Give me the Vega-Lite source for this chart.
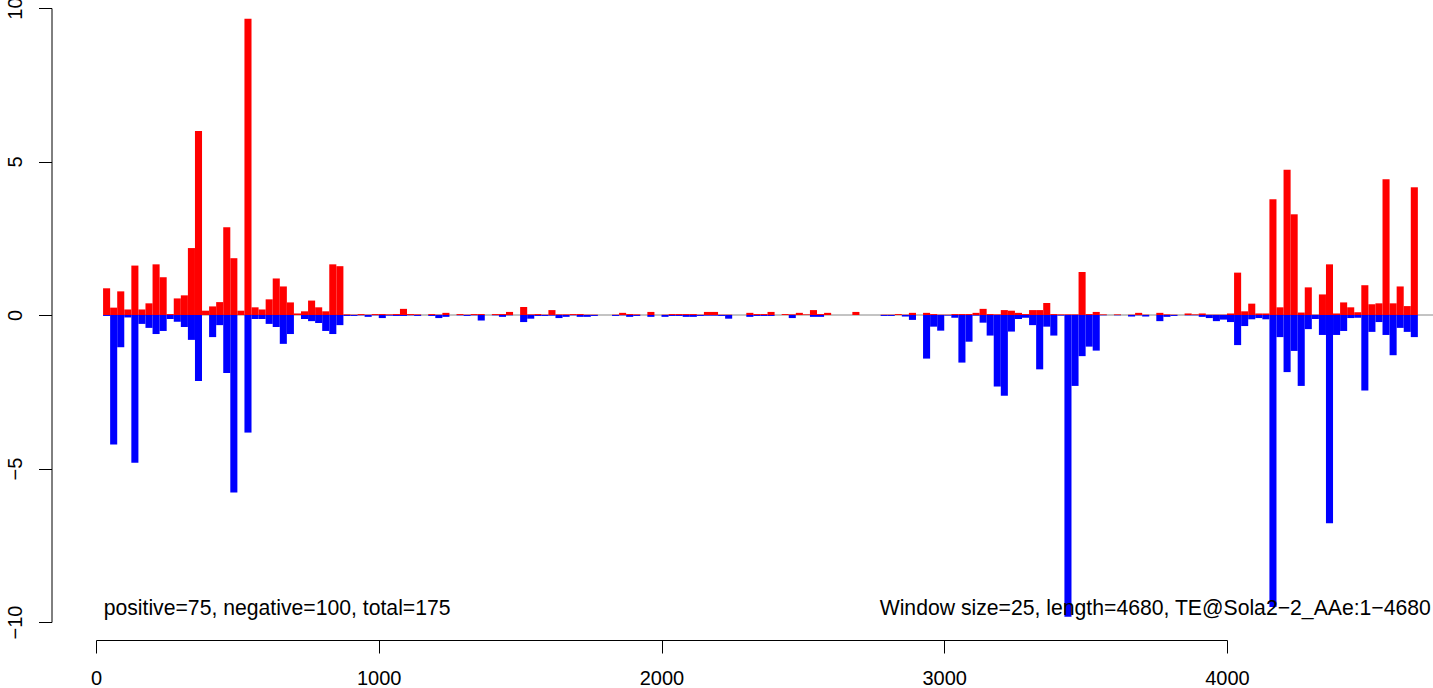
{
  "$schema": "https://vega.github.io/schema/vega-lite/v6.json",
  "width": 1131,
  "height": 614,
  "autosize": {"type": "none"},
  "padding": {"left": 96, "top": 8, "right": 206, "bottom": 66},
  "background": "white",
  "config": {
    "view": {"stroke": null},
    "axis": {"grid": false, "domainColor": "black", "tickColor": "black", "labelColor": "black", "labelFont": "Liberation Sans", "labelFontSize": 20, "tickSize": 13, "domainWidth": 1, "tickWidth": 1, "title": null}
  },
  "data": {"values": [
    {"s":25,"e":50,"pos":0.87,"neg":-0.03},{"s":50,"e":75,"pos":0.24,"neg":-4.22},{"s":75,"e":100,"pos":0.77,"neg":-1.05},{"s":100,"e":125,"pos":0.18,"neg":-0.08},{"s":125,"e":150,"pos":1.61,"neg":-4.81},
    {"s":150,"e":175,"pos":0.18,"neg":-0.29},{"s":175,"e":200,"pos":0.38,"neg":-0.42},{"s":200,"e":225,"pos":1.65,"neg":-0.62},{"s":225,"e":250,"pos":1.23,"neg":-0.52},{"s":250,"e":275,"pos":0.03,"neg":-0.13},
    {"s":275,"e":300,"pos":0.54,"neg":-0.22},{"s":300,"e":325,"pos":0.64,"neg":-0.39},{"s":325,"e":350,"pos":2.18,"neg":-0.81},{"s":350,"e":375,"pos":5.99,"neg":-2.15},{"s":375,"e":400,"pos":0.14,"neg":0},
    {"s":400,"e":425,"pos":0.28,"neg":-0.72},{"s":425,"e":450,"pos":0.42,"neg":-0.33},{"s":450,"e":475,"pos":2.86,"neg":-1.89},{"s":475,"e":500,"pos":1.85,"neg":-5.78},{"s":500,"e":525,"pos":0.14,"neg":0},
    {"s":525,"e":550,"pos":9.65,"neg":-3.83},{"s":550,"e":575,"pos":0.25,"neg":-0.13},{"s":575,"e":600,"pos":0.18,"neg":-0.13},{"s":600,"e":625,"pos":0.51,"neg":-0.29},{"s":625,"e":650,"pos":1.19,"neg":-0.39},
    {"s":650,"e":675,"pos":0.93,"neg":-0.94},{"s":675,"e":700,"pos":0.41,"neg":-0.62},{"s":700,"e":725,"pos":0.05,"neg":0},{"s":725,"e":750,"pos":0.12,"neg":-0.13},{"s":750,"e":775,"pos":0.47,"neg":-0.2},
    {"s":775,"e":800,"pos":0.25,"neg":-0.26},{"s":800,"e":825,"pos":0.12,"neg":-0.52},{"s":825,"e":850,"pos":1.65,"neg":-0.62},{"s":850,"e":875,"pos":1.59,"neg":-0.33},{"s":875,"e":900,"pos":0.02,"neg":-0.03},
    {"s":900,"e":925,"pos":0.01,"neg":-0.03},{"s":925,"e":950,"pos":0.03,"neg":-0.01},{"s":950,"e":975,"pos":0.01,"neg":-0.06},{"s":975,"e":1000,"pos":0.03,"neg":-0.01},{"s":1000,"e":1025,"pos":0.03,"neg":-0.1},
    {"s":1025,"e":1050,"pos":0.02,"neg":-0.02},{"s":1050,"e":1075,"pos":0.03,"neg":-0.03},{"s":1075,"e":1100,"pos":0.2,"neg":-0.03},{"s":1100,"e":1125,"pos":0.03,"neg":-0.01},{"s":1125,"e":1150,"pos":0.02,"neg":-0.03},
    {"s":1150,"e":1175,"pos":0,"neg":0},{"s":1175,"e":1200,"pos":0.03,"neg":-0.03},{"s":1200,"e":1225,"pos":0.01,"neg":-0.1},{"s":1225,"e":1250,"pos":0.07,"neg":-0.06},{"s":1250,"e":1275,"pos":0,"neg":0},
    {"s":1275,"e":1300,"pos":0.03,"neg":-0.01},{"s":1300,"e":1325,"pos":0.01,"neg":-0.03},{"s":1325,"e":1350,"pos":0.03,"neg":-0.01},{"s":1350,"e":1375,"pos":0.03,"neg":-0.18},{"s":1375,"e":1400,"pos":0,"neg":0},
    {"s":1400,"e":1425,"pos":0.03,"neg":-0.01},{"s":1425,"e":1450,"pos":0.03,"neg":-0.06},{"s":1450,"e":1475,"pos":0.1,"neg":-0.01},{"s":1475,"e":1500,"pos":0,"neg":0},{"s":1500,"e":1525,"pos":0.26,"neg":-0.23},
    {"s":1525,"e":1550,"pos":0.02,"neg":-0.12},{"s":1550,"e":1575,"pos":0.03,"neg":-0.03},{"s":1575,"e":1600,"pos":0.01,"neg":-0.03},{"s":1600,"e":1625,"pos":0.16,"neg":-0.02},{"s":1625,"e":1650,"pos":0.02,"neg":-0.1},
    {"s":1650,"e":1675,"pos":0.02,"neg":-0.06},{"s":1675,"e":1700,"pos":0.03,"neg":-0.01},{"s":1700,"e":1725,"pos":0.03,"neg":-0.06},{"s":1725,"e":1750,"pos":0.01,"neg":-0.06},{"s":1750,"e":1775,"pos":0.01,"neg":-0.03},
    {"s":1775,"e":1800,"pos":0,"neg":0},{"s":1800,"e":1825,"pos":0,"neg":0},{"s":1825,"e":1850,"pos":0.01,"neg":-0.03},{"s":1850,"e":1875,"pos":0.07,"neg":-0.01},{"s":1875,"e":1900,"pos":0.03,"neg":-0.06},
    {"s":1900,"e":1925,"pos":0.02,"neg":-0.03},{"s":1925,"e":1950,"pos":0,"neg":0},{"s":1950,"e":1975,"pos":0.1,"neg":-0.06},{"s":1975,"e":2000,"pos":0,"neg":0},{"s":2000,"e":2025,"pos":0.01,"neg":-0.06},
    {"s":2025,"e":2050,"pos":0.03,"neg":-0.03},{"s":2050,"e":2075,"pos":0.03,"neg":-0.03},{"s":2075,"e":2100,"pos":0.03,"neg":-0.06},{"s":2100,"e":2125,"pos":0.03,"neg":-0.06},{"s":2125,"e":2150,"pos":0.01,"neg":-0.03},
    {"s":2150,"e":2175,"pos":0.1,"neg":-0.02},{"s":2175,"e":2200,"pos":0.1,"neg":-0.02},{"s":2200,"e":2225,"pos":0.01,"neg":-0.03},{"s":2225,"e":2250,"pos":0.01,"neg":-0.12},{"s":2250,"e":2275,"pos":0,"neg":0},
    {"s":2275,"e":2300,"pos":0,"neg":0},{"s":2300,"e":2325,"pos":0.07,"neg":-0.06},{"s":2325,"e":2350,"pos":0.03,"neg":-0.03},{"s":2350,"e":2375,"pos":0.03,"neg":-0.03},{"s":2375,"e":2400,"pos":0.1,"neg":-0.03},
    {"s":2400,"e":2425,"pos":0,"neg":0},{"s":2425,"e":2450,"pos":0.03,"neg":0},{"s":2450,"e":2475,"pos":0.02,"neg":-0.1},{"s":2475,"e":2500,"pos":0.07,"neg":0},{"s":2500,"e":2525,"pos":0.02,"neg":0},
    {"s":2525,"e":2550,"pos":0.16,"neg":-0.06},{"s":2550,"e":2575,"pos":0.03,"neg":-0.06},{"s":2575,"e":2600,"pos":0.07,"neg":0},{"s":2600,"e":2625,"pos":0,"neg":0},{"s":2625,"e":2650,"pos":0,"neg":0},
    {"s":2650,"e":2675,"pos":0,"neg":0},{"s":2675,"e":2700,"pos":0.1,"neg":0},{"s":2700,"e":2725,"pos":0,"neg":0},{"s":2725,"e":2750,"pos":0,"neg":0},{"s":2750,"e":2775,"pos":0,"neg":0},
    {"s":2775,"e":2800,"pos":0.01,"neg":-0.03},{"s":2800,"e":2825,"pos":0.01,"neg":-0.03},{"s":2825,"e":2850,"pos":0.03,"neg":0},{"s":2850,"e":2875,"pos":0.01,"neg":-0.05},{"s":2875,"e":2900,"pos":0.07,"neg":-0.16},
    {"s":2900,"e":2925,"pos":0,"neg":0},{"s":2925,"e":2950,"pos":0.07,"neg":-1.42},{"s":2950,"e":2975,"pos":0.03,"neg":-0.38},{"s":2975,"e":3000,"pos":0.01,"neg":-0.51},{"s":3000,"e":3025,"pos":0.01,"neg":-0.02},
    {"s":3025,"e":3050,"pos":0.03,"neg":-0.09},{"s":3050,"e":3075,"pos":0.03,"neg":-1.55},{"s":3075,"e":3100,"pos":0.03,"neg":-0.87},{"s":3100,"e":3125,"pos":0.07,"neg":-0.02},{"s":3125,"e":3150,"pos":0.2,"neg":-0.25},
    {"s":3150,"e":3175,"pos":0.03,"neg":-0.67},{"s":3175,"e":3200,"pos":0.02,"neg":-2.33},{"s":3200,"e":3225,"pos":0.16,"neg":-2.63},{"s":3225,"e":3250,"pos":0.14,"neg":-0.54},{"s":3250,"e":3275,"pos":0.07,"neg":-0.13},
    {"s":3275,"e":3300,"pos":0.03,"neg":-0.09},{"s":3300,"e":3325,"pos":0.16,"neg":-0.33},{"s":3325,"e":3350,"pos":0.16,"neg":-1.77},{"s":3350,"e":3375,"pos":0.39,"neg":-0.38},{"s":3375,"e":3400,"pos":0.03,"neg":-0.67},
    {"s":3400,"e":3425,"pos":0.02,"neg":-0.02},{"s":3425,"e":3450,"pos":0.02,"neg":-9.83},{"s":3450,"e":3475,"pos":0.02,"neg":-2.31},{"s":3475,"e":3500,"pos":1.4,"neg":-1.34},{"s":3500,"e":3525,"pos":0.03,"neg":-1.03},
    {"s":3525,"e":3550,"pos":0.1,"neg":-1.16},{"s":3550,"e":3575,"pos":0.02,"neg":-0.01},{"s":3575,"e":3600,"pos":0,"neg":0},{"s":3600,"e":3625,"pos":0.02,"neg":-0.01},{"s":3625,"e":3650,"pos":0,"neg":0},
    {"s":3650,"e":3675,"pos":0.01,"neg":-0.05},{"s":3675,"e":3700,"pos":0.07,"neg":-0.01},{"s":3700,"e":3725,"pos":0.01,"neg":-0.05},{"s":3725,"e":3750,"pos":0,"neg":0},{"s":3750,"e":3775,"pos":0.07,"neg":-0.2},
    {"s":3775,"e":3800,"pos":0.02,"neg":-0.06},{"s":3800,"e":3825,"pos":0.01,"neg":-0.03},{"s":3825,"e":3850,"pos":0,"neg":0},{"s":3850,"e":3875,"pos":0.05,"neg":-0.01},{"s":3875,"e":3900,"pos":0.02,"neg":-0.01},
    {"s":3900,"e":3925,"pos":0.05,"neg":-0.06},{"s":3925,"e":3950,"pos":0.01,"neg":-0.1},{"s":3950,"e":3975,"pos":0.01,"neg":-0.2},{"s":3975,"e":4000,"pos":0.01,"neg":-0.15},{"s":4000,"e":4025,"pos":0.05,"neg":-0.23},
    {"s":4025,"e":4050,"pos":1.38,"neg":-0.98},{"s":4050,"e":4075,"pos":0.12,"neg":-0.36},{"s":4075,"e":4100,"pos":0.37,"neg":-0.14},{"s":4100,"e":4125,"pos":0.05,"neg":-0.1},{"s":4125,"e":4150,"pos":0.05,"neg":-0.14},
    {"s":4150,"e":4175,"pos":3.77,"neg":-9.51},{"s":4175,"e":4200,"pos":0.25,"neg":-0.72},{"s":4200,"e":4225,"pos":4.73,"neg":-1.86},{"s":4225,"e":4250,"pos":3.28,"neg":-1.17},{"s":4250,"e":4275,"pos":0.08,"neg":-2.31},
    {"s":4275,"e":4300,"pos":0.9,"neg":-0.46},{"s":4300,"e":4325,"pos":0.01,"neg":-0.13},{"s":4325,"e":4350,"pos":0.67,"neg":-0.65},{"s":4350,"e":4375,"pos":1.65,"neg":-6.78},{"s":4375,"e":4400,"pos":0.05,"neg":-0.65},
    {"s":4400,"e":4425,"pos":0.41,"neg":-0.52},{"s":4425,"e":4450,"pos":0.25,"neg":-0.1},{"s":4450,"e":4475,"pos":0.09,"neg":-0.09},{"s":4475,"e":4500,"pos":0.97,"neg":-2.46},{"s":4500,"e":4525,"pos":0.35,"neg":-0.55},
    {"s":4525,"e":4550,"pos":0.38,"neg":-0.23},{"s":4550,"e":4575,"pos":4.42,"neg":-0.65},{"s":4575,"e":4600,"pos":0.38,"neg":-1.31},{"s":4600,"e":4625,"pos":0.93,"neg":-0.42},{"s":4625,"e":4650,"pos":0.29,"neg":-0.55},
    {"s":4650,"e":4675,"pos":4.16,"neg":-0.72}
  ]},
  "layer": [
    {
      "data": {"values": [{"a": 25, "b": 4730, "z": 0}]},
      "mark": {"type": "rule", "color": "#888888", "strokeWidth": 1},
      "encoding": {
        "x": {"field": "a", "type": "quantitative", "scale": {"domain": [0, 4000], "nice": false, "zero": false},
              "axis": {"values": [0, 1000, 2000, 3000, 4000], "format": "d", "offset": 18, "labelPadding": 31, "labelBaseline": "alphabetic", "labelFlush": false, "labelOverlap": false}},
        "x2": {"field": "b"},
        "y": {"field": "z", "type": "quantitative", "scale": {"domain": [-10, 10], "nice": false},
              "axis": {"values": [-10, -5, 0, 5, 10], "offset": 44.5, "labelAngle": -90, "labelAlign": "center", "labelBaseline": "alphabetic", "labelPadding": 17, "labelFlush": false, "labelOverlap": false}}
      }
    },
    {
      "mark": {"type": "rect", "color": "#FF0000"},
      "encoding": {
        "x": {"field": "s", "type": "quantitative"},
        "x2": {"field": "e"},
        "y": {"field": "pos", "type": "quantitative"},
        "y2": {"datum": 0}
      }
    },
    {
      "mark": {"type": "rect", "color": "#0000FF"},
      "encoding": {
        "x": {"field": "s", "type": "quantitative"},
        "x2": {"field": "e"},
        "y": {"field": "neg", "type": "quantitative"},
        "y2": {"datum": 0}
      }
    },
    {
      "data": {"values": [{"label": "positive=75, negative=100, total=175"}]},
      "mark": {"type": "text", "align": "left", "baseline": "alphabetic", "font": "Liberation Sans", "fontSize": 21.2, "color": "black"},
      "encoding": {
        "x": {"datum": 27},
        "y": {"datum": -9.77},
        "text": {"field": "label"}
      }
    },
    {
      "data": {"values": [{"label": "Window size=25, length=4680, TE@Sola2−2_AAe:1−4680"}]},
      "mark": {"type": "text", "align": "right", "baseline": "alphabetic", "font": "Liberation Sans", "fontSize": 21.2, "color": "black"},
      "encoding": {
        "x": {"datum": 4721},
        "y": {"datum": -9.77},
        "text": {"field": "label"}
      }
    }
  ]
}
